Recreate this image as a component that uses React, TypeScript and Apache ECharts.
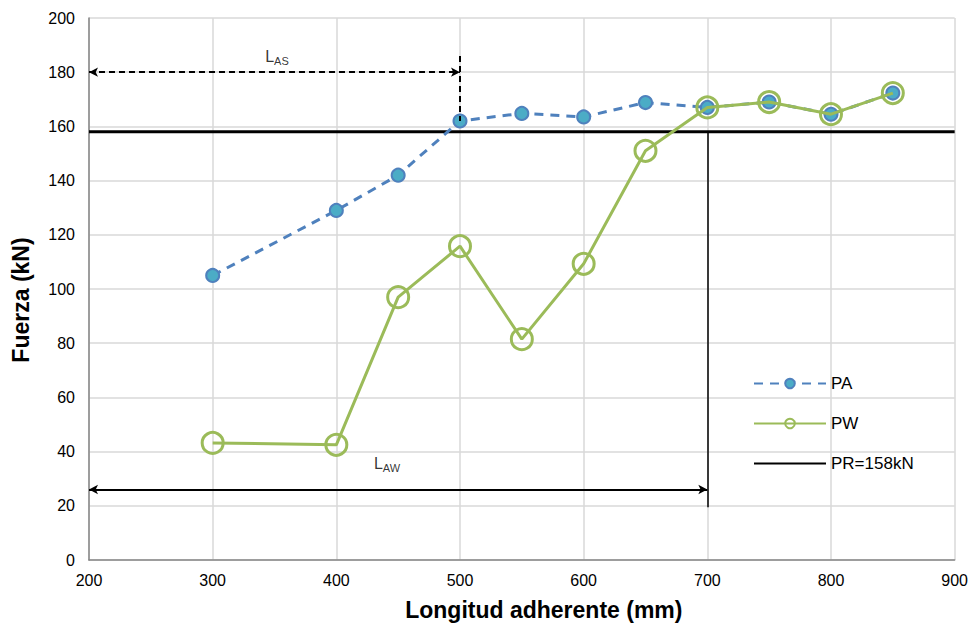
import React, { useEffect, useRef } from "react";
import * as echarts from "echarts";

const lengths = [300, 400, 450, 500, 550, 600, 650, 700, 750, 800, 850];
const paValues = [105, 129, 142, 162, 164.8, 163.5, 168.8, 167, 169, 164.5, 172.3];
const pwValues = [43.2, 42.5, 97, 115.8, 81.5, 109.3, 151, 167, 169, 164.5, 172.3];
const prValue = 158;
const xRange = [200, 900];
const yRange = [0, 200];
const lasArrow = { from: 200, to: 500, y: 180, tickTop: 186, tickBottom: 162 };
const lawArrow = { from: 200, to: 700, y: 26, tickBottom: 19.5 };
const labelPoints = [
  { name: "LAS", value: [352, 186], main: "L", sub: "AS" },
  { name: "LAW", value: [441, 36], main: "L", sub: "AW" },
];

const FONT = "Liberation Sans, Arial, sans-serif";

export default function App() {
  const ref = useRef<HTMLDivElement>(null);
  useEffect(() => {
    document.body.style.margin = "0";
    const chart = echarts.init(ref.current!, null, { renderer: "svg" });
    const option: any = {
      animation: false,
      backgroundColor: "#fff",
      textStyle: { fontFamily: FONT },
      grid: { left: 89, right: 16, top: 18, bottom: 68 },
      legend: {
        data: ["PA", "PW", { name: "PR=158kN", itemStyle: { opacity: 0 } }],
        orient: "vertical",
        left: 748,
        top: 370,
        itemWidth: 72,
        itemHeight: 12,
        itemGap: 23,
        textStyle: { fontSize: 17, color: "#000", fontFamily: FONT },
      },
      xAxis: {
        type: "value",
        min: xRange[0],
        max: xRange[1],
        interval: 100,
        name: "Longitud adherente (mm)",
        nameLocation: "middle",
        nameGap: 38,
        nameTextStyle: { fontSize: 23, fontWeight: "bold", color: "#000", fontFamily: FONT, padding: [0, 0, 0, 44] },
        axisLine: { lineStyle: { color: "#868686", width: 1.5 } },
        axisTick: { show: false },
        axisLabel: { fontSize: 16, color: "#000", margin: 12, fontFamily: FONT },
        splitLine: { lineStyle: { color: "#d9d9d9", width: 1.5 } },
      },
      yAxis: {
        type: "value",
        min: yRange[0],
        max: yRange[1],
        interval: 20,
        name: "Fuerza (kN)",
        nameLocation: "middle",
        nameGap: 57,
        nameTextStyle: { fontSize: 23, fontWeight: "bold", color: "#000", fontFamily: FONT, padding: [0, 22, 0, 0] },
        axisLine: { show: true, lineStyle: { color: "#868686", width: 1.5 } },
        axisTick: { show: false },
        axisLabel: { fontSize: 16, color: "#000", margin: 14, fontFamily: FONT },
        splitLine: { lineStyle: { color: "#d9d9d9", width: 1.5 } },
      },
      series: [
        {
          name: "PR=158kN",
          type: "line",
          data: [
            [xRange[0], prValue],
            [xRange[1], prValue],
          ],
          symbol: "none",
          lineStyle: { color: "#000", width: 3 },
          itemStyle: { color: "#000" },
          z: 3,
          markLine: {
            silent: true,
            symbol: ["none", "none"],
            label: { show: false },
            lineStyle: { color: "#000", width: 1.5, type: "solid" },
            data: [
              [
                { coord: [lawArrow.to, prValue] },
                { coord: [lawArrow.to, lawArrow.tickBottom] },
              ],
            ],
          },
        },
        {
          name: "PA",
          type: "line",
          data: lengths.map((x, i) => [x, paValues[i]]),
          symbol: "circle",
          symbolSize: 13,
          lineStyle: { color: "#4F81BD", width: 3, type: [9, 7] },
          itemStyle: { color: "#4BACC6", borderColor: "#4F81BD", borderWidth: 2 },
          z: 4,
        },
        {
          name: "PW",
          type: "line",
          data: lengths.map((x, i) => [x, pwValues[i]]),
          symbol: "circle",
          symbolSize: 21,
          lineStyle: { color: "#9BBB59", width: 3 },
          itemStyle: { color: "rgba(255,255,255,0)", borderColor: "#9BBB59", borderWidth: 3 },
          z: 5,
        },
        {
          name: "annotations",
          type: "scatter",
          data: labelPoints.map((p) => ({ name: p.name, value: p.value, main: p.main, sub: p.sub })),
          symbolSize: 0,
          silent: true,
          z: 6,
          label: {
            show: true,
            position: "inside",
            formatter: (p: any) => `{l|${p.data.main}}{s|${p.data.sub}}`,
            rich: {
              l: { fontSize: 16, color: "#000", fontFamily: FONT, lineHeight: 18, verticalAlign: "bottom" },
              s: { fontSize: 11, color: "#000", fontFamily: FONT, lineHeight: 14, verticalAlign: "bottom", padding: [0, 0, -2, 0] },
            },
          },
          markLine: {
            silent: true,
            label: { show: false },
            data: [
              [
                { coord: [lasArrow.from, lasArrow.y], symbol: "arrow" },
                { coord: [lasArrow.to, lasArrow.y], symbol: "arrow" },
              ],
              [
                { coord: [lasArrow.to, lasArrow.tickTop], symbol: "none" },
                { coord: [lasArrow.to, lasArrow.tickBottom], symbol: "none" },
              ],
              [
                { coord: [lawArrow.from, lawArrow.y], symbol: "arrow", lineStyle: { type: "solid", color: "#000", width: 2 } },
                { coord: [lawArrow.to, lawArrow.y], symbol: "arrow" },
              ],
            ],
            symbolSize: [7, 9],
            lineStyle: { color: "#000", width: 2, type: [6, 4] },
          },
        },
      ],
    };
    chart.setOption(option);
    return () => chart.dispose();
  }, []);
  return <div ref={ref} style={{ width: 971, height: 628 }} />;
}
